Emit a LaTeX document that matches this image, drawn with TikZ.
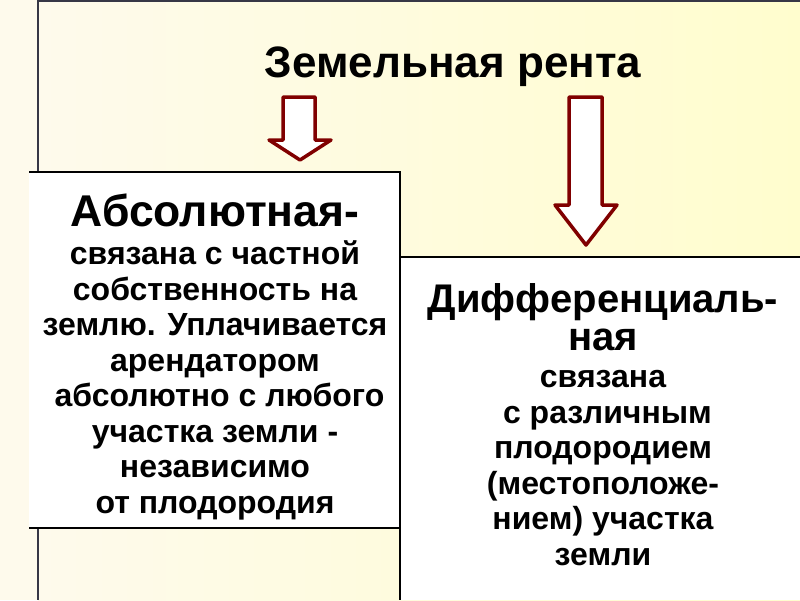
\documentclass[tikz,border=0pt]{standalone}
\usepackage{fontspec}
\setmainfont{Liberation Sans}
\definecolor{rentred}{RGB}{128,0,0}
\definecolor{creamleft}{RGB}{254,250,236}
\definecolor{creamright}{RGB}{255,253,206}
\definecolor{framegray}{RGB}{55,55,70}
\tikzset{
  blockarrow/.style={draw=rentred, line width=3.5pt, fill=white, line join=round},
  boxtext/.style={align=center, anchor=base, inner sep=0pt,
    font=\bfseries\fontsize{32}{35.5}\selectfont},
  headfont/.style={font=\bfseries\fontsize{44}{50}\selectfont}
}
\begin{document}
\begin{tikzpicture}[x=1pt,y=-1pt]
\useasboundingbox (0,0) rectangle (800,600);
% background
\fill[creamleft] (0,0) rectangle (38,600);
\shade[left color=creamleft, right color=creamright] (38,0) rectangle (800,600);
\draw[framegray, line width=2pt] (38,1)--(800,1);
\draw[framegray, line width=1.2pt] (38,0)--(38,600);
% boxes
\fill[white] (29,172) rectangle (400,528);
\draw[line width=1.2pt] (29,172)--(400,172)--(400,528)--(29,528);
\fill[white] (400,257) rectangle (800,600);
\draw[line width=1.2pt] (800,257)--(400,257)--(400,600);
% arrows
\draw[blockarrow] (283,97)--(315,97)--(315,140)--(331,140)--(300,160)--(269,140)--(283,140)--cycle;
\draw[blockarrow] (569,97)--(602,97)--(602,205)--(617,205)--(586,245)--(555,205)--(569,205)--cycle;
% texts (base = last line)
\node[headfont, anchor=base] (title) at (453,77) {Земельная рента};
\node[boxtext] (absol) at (215,513) {{\fontsize{44.5}{35.5}\selectfont Абсолютная-}\\[2.5pt]
  связана с частной\\
  собственность на\\
  землю. Уплачивается\\
  арендатором\\
  \ абсолютно с любого\\
  участка земли -\\
  независимо\\
  от плодородия};
\node[boxtext] (diff) at (603,565) {{\fontsize{40}{35.5}\selectfont Дифференциаль-}\\[2.5pt]
  {\fontsize{40}{35.5}\selectfont ная}\\[1.5pt]
  связана\\
  \ с различным\\
  плодородием\\
  (местоположе-\\
  нием) участка\\
  земли};
\end{tikzpicture}
\end{document}
